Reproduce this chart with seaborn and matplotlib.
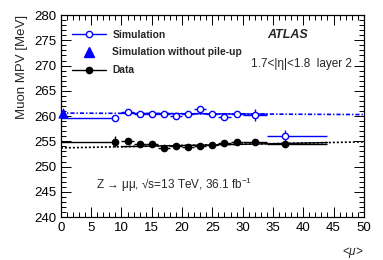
import numpy as np
import matplotlib
matplotlib.use("Agg")
import matplotlib.pyplot as plt
import seaborn as sns
from matplotlib.lines import Line2D
from matplotlib.ticker import MultipleLocator

# <mu> bin centres and values
mu = [9, 11, 13, 15, 17, 19, 21, 23, 25, 27, 29, 32, 37]
mu_lo = [9, 1, 1, 1, 1, 1, 1, 1, 1, 1, 1, 2, 3]
mu_hi = [0.2, 1, 1, 1, 1, 1, 1, 1, 1, 1, 1, 2, 7]

sim = [259.6, 260.9, 260.4, 260.5, 260.4, 260.1, 260.4, 261.4, 260.4, 259.9, 260.4, 260.2, 256.0]
sim_err = [0.2, 0.2, 0.2, 0.2, 0.2, 0.2, 0.2, 0.2, 0.2, 0.2, 0.2, 1.2, 1.2]

data = [254.9, 255.1, 254.4, 254.5, 253.6, 254.1, 253.8, 254.1, 254.2, 254.6, 254.9, 254.8, 254.4]
data_err = [1.1, 0.2, 0.2, 0.2, 0.2, 0.2, 0.2, 0.2, 0.2, 0.2, 0.2, 0.3, 0.4]

nopu_mu = [0.3]
nopu = [260.6]

# linear fits (end points of the drawn lines)
sim_fit_x = [0, 50]
sim_fit_y = [260.6, 260.3]
sim_fit_range = [10, 34]
data_fit_x = [0, 50]
data_fit_y = [253.7, 254.9]
data_fit_range = [10, 44]

sns.set_theme(style="ticks")
plt.rcParams['font.family'] = ['Liberation Sans', 'DejaVu Sans']
plt.rcParams['mathtext.fontset'] = 'custom'
plt.rcParams['mathtext.rm'] = 'Liberation Sans'
plt.rcParams['mathtext.it'] = 'Liberation Sans:italic'

fig = plt.figure(figsize=(3.83, 2.60), dpi=100)
ax = fig.add_axes([0.159, 0.165, 0.791, 0.777])

blue = '#0000ff'


def fit_line(x, y, r):
    sx = np.array(x, dtype=float)
    sy = np.array(y, dtype=float)
    slope = (sy[1] - sy[0]) / (sx[1] - sx[0])
    return sy[0] + slope * (np.array(r) - sx[0])


# dotted / dash-dot extrapolations
sns.lineplot(x=sim_fit_x, y=sim_fit_y, ax=ax, color=blue, lw=1.2,
             linestyle=(0, (2.5, 1.2, 0.8, 1.2)))
sns.lineplot(x=data_fit_x, y=data_fit_y, ax=ax, color='black', lw=1.2,
             linestyle=(0, (1.2, 1.2)))
# solid fit range
sns.lineplot(x=sim_fit_range, y=fit_line(sim_fit_x, sim_fit_y, sim_fit_range),
             ax=ax, color=blue, lw=1.0)
sns.lineplot(x=data_fit_range, y=fit_line(data_fit_x, data_fit_y, data_fit_range),
             ax=ax, color='black', lw=1.0)

ax.errorbar(mu, sim, xerr=[mu_lo, mu_hi], yerr=sim_err, fmt='o', ms=4.5,
            mfc='white', mec=blue, mew=1.0, color=blue, elinewidth=1.0, capsize=0, zorder=4)
ax.errorbar(mu, data, xerr=[mu_lo, mu_hi], yerr=data_err, fmt='o', ms=4.5,
            mfc='black', mec='black', color='black', elinewidth=1.0, capsize=0, zorder=5)
sns.scatterplot(x=nopu_mu, y=nopu, ax=ax, marker='^', s=45, color=blue,
                edgecolor=blue, zorder=6, clip_on=False)

ax.set_xlim(0, 50)
ax.set_ylim(240, 280)
ax.xaxis.set_major_locator(MultipleLocator(5))
ax.xaxis.set_minor_locator(MultipleLocator(1))
ax.yaxis.set_major_locator(MultipleLocator(5))
ax.yaxis.set_minor_locator(MultipleLocator(1))
ax.tick_params(which='both', direction='in', top=True, right=True, labelsize=9.5,
               colors='black', width=0.7)
ax.tick_params(which='major', length=7)
ax.tick_params(which='minor', length=3.5)
for s in ax.spines.values():
    s.set_linewidth(0.9)
    s.set_color('black')

ax.set_ylabel('Muon MPV [MeV]', fontsize=9.5, loc='top', labelpad=4)
ax.set_xlabel(r'<$\mu$>', fontsize=8.5, loc='right', labelpad=8)

handles = [
    Line2D([], [], color=blue, marker='o', mfc='white', mec=blue, ms=4.5, lw=1),
    Line2D([], [], color=blue, marker='^', ls='none', ms=7),
    Line2D([], [], color='black', marker='o', ms=4.5, lw=1),
]
labels = ['Simulation', 'Simulation without pile-up', 'Data']
ax.legend(handles, labels, loc='upper left', bbox_to_anchor=(0.022, 0.948), frameon=False,
          prop={'weight': 'bold', 'size': 7.4}, handlelength=3.3, handletextpad=0.65,
          labelspacing=0.75, borderaxespad=0)

ax.text(0.75, 0.90, 'ATLAS', transform=ax.transAxes, fontsize=9,
        fontweight='bold', fontstyle='italic', ha='center', va='center')
ax.text(0.96, 0.76, '1.7<|η|<1.8  layer 2', transform=ax.transAxes,
        fontsize=8.5, ha='right', va='center')
ax.text(0.115, 0.16, 'Z → μμ, √s=13 TeV, 36.1 fb$^{-1}$',
        transform=ax.transAxes, fontsize=8.5, ha='left', va='center')

fig.savefig('out.png', dpi=100)
